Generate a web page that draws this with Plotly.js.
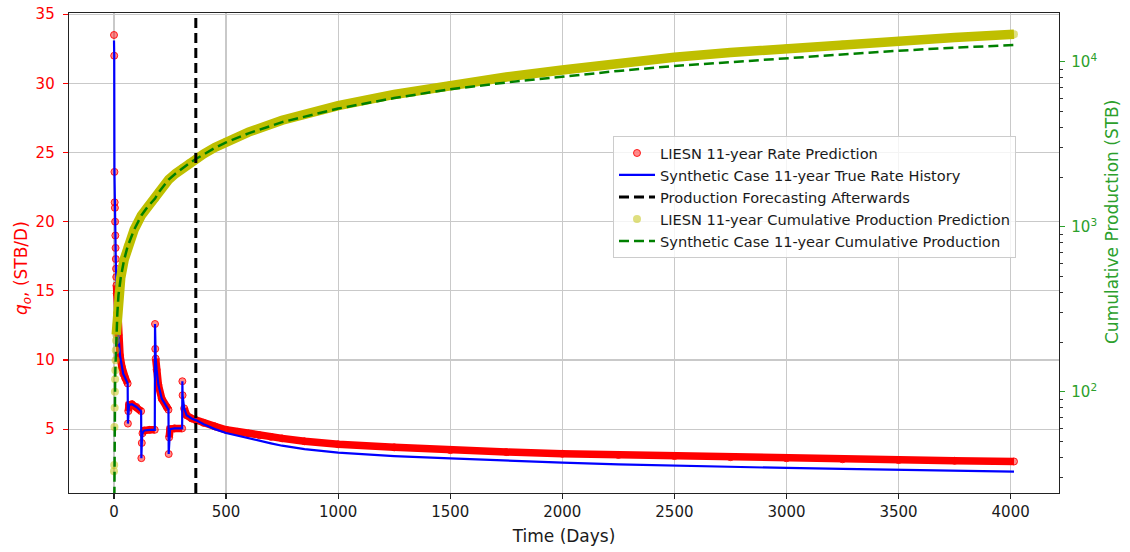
<!DOCTYPE html>
<html><head><meta charset="utf-8">
<script src="https://cdn.plot.ly/plotly-3.0.1.min.js"></script>
<style>html,body{margin:0;padding:0;background:#fff}#chart{width:1130px;height:552px}</style>
</head><body><div id="chart"></div>
<script>
// ---- data ----
const rateDays = [0,1,2,3,4,5,6,7,8,9,10,11,12,15,20,27,35,41,50,61,
  62,64,67,80,100,121,
  122,124,127,135,160,182,
  183,184,186,190,198,213,235,243,
  244,246,250,270,304,
  305,306,313,324,346,365,
  400,450,500,550,600,650,700,750,850,1000,1250,1500,1750,2000,2250,2500,2750,3000,3250,3500,3750,4015];
const ratePred = [33.5,32.0,23.6,21.4,21.0,20.0,19.0,18.1,17.3,16.6,16.0,15.4,14.8,13.4,11.8,10.3,9.5,9.0,8.7,8.3,
  5.4,6.3,6.75,6.8,6.6,6.3,
  2.9,4.0,4.7,4.9,4.95,4.95,
  12.6,10.8,10.1,9.3,8.2,7.2,6.6,6.4,
  3.2,4.4,5.0,5.05,5.05,
  8.46,7.45,6.5,6.0,5.77,5.65,
  5.45,5.2,4.95,4.8,4.68,4.55,4.44,4.33,4.12,3.9,3.68,3.48,3.34,3.22,3.13,3.05,2.97,2.89,2.82,2.76,2.71,2.66];
const rateTrue = [33.1,32.0,23.6,21.4,21.0,20.0,19.0,18.1,17.3,16.6,16.0,15.4,14.8,13.4,11.8,10.3,9.5,9.0,8.7,8.3,
  5.4,6.3,6.75,6.8,6.6,6.3,
  2.9,4.0,4.7,4.9,4.95,4.95,
  12.6,10.8,10.1,9.3,8.2,7.2,6.6,6.4,
  3.2,4.4,5.0,5.05,5.05,
  8.46,7.45,6.5,6.0,5.77,5.65,
  5.35,5.0,4.72,4.52,4.35,4.15,3.97,3.8,3.55,3.3,3.05,2.88,2.71,2.57,2.45,2.35,2.27,2.19,2.12,2.05,1.98,1.92];
// days at which the predicted rate shows as separate dots, not a solid band
const predIsolatedDays = [0,1,2,3,4,5,6,7,8,9,10,62,122,124,183,184,244,305,306];

const cumDays = [0,1,2,3,4,5,6,7,8,9,10,12,15,20,30,45,61,90,122,150,183,200,244,275,305,335,365,
  400,450,500,600,750,1000,1250,1500,1750,2000,2250,2500,2750,3000,3250,3500,3750,4015];
const cumPred = [33,36,61,80,100,119,135,155,178,204,222,255,300,385,490,630,760,960,1170,1320,1480,1620,1930,2100,2260,2420,2570,
  2760,3020,3270,3740,4420,5420,6330,7220,8080,8900,9790,10640,11350,12050,12730,13400,14030,14660];
const cumTrue = [10,36,61,80,100,119,135,155,178,204,222,255,300,385,490,630,760,960,1170,1320,1480,1620,1930,2100,2260,2420,2570,
  2750,3000,3240,3680,4300,5200,6020,6810,7480,8110,8790,9420,9960,10490,11080,11660,12150,12620];
const cumIsolatedDays = [0,1,2,3,4,5,6,7,8,9];

const forecastDay = 365;

const xTicks = [0,500,1000,1500,2000,2500,3000,3500,4000];
const leftTicks = [5,10,15,20,25,30,35];
const rightTicks = [100,1000,10000];
const rightTickText = ['10<sup>2</sup>','10<sup>3</sup>','10<sup>4</sup>'];
const names = ['LIESN 11-year Rate Prediction','Synthetic Case 11-year True Rate History',
  'Production Forecasting Afterwards','LIESN 11-year Cumulative Production Prediction',
  'Synthetic Case 11-year Cumulative Production'];

// ---- build band lines (gaps where points stand alone) ----
function band(days, vals, isolated){
  const xs=[], ys=[]; const iso=new Set(isolated);
  days.forEach((d,i)=>{ if(iso.has(d)){ if(xs.length && xs[xs.length-1]!==null){xs.push(null);ys.push(null);} }
    else { xs.push(d); ys.push(vals[i]); } });
  return {xs, ys};
}
const redBand = band(rateDays, ratePred, predIsolatedDays);
const yelBand = band(cumDays, cumPred, cumIsolatedDays);

const minorTicks=[];
[10,100,1000,10000].forEach(dec=>{ for(let k=2;k<=9;k++) minorTicks.push(k*dec); });

const traces = [
  {x:redBand.xs, y:redBand.ys, mode:'lines', line:{color:'#ff0000', width:7.5}, connectgaps:false, showlegend:false, hoverinfo:'skip'},
  {x:rateDays, y:ratePred, mode:'markers', name:names[0], legendgroup:'a',
   marker:{size:7, color:'rgba(255,0,0,0.45)', line:{color:'rgba(255,0,0,0.85)', width:1}}},
  {x:rateDays, y:rateTrue, mode:'lines', name:names[1], legendgroup:'b', line:{color:'#0000ff', width:2.2}},
  {x:[forecastDay, forecastDay], y:[0,1], yaxis:'y3', mode:'lines', name:names[2], legendgroup:'c',
   line:{color:'#000000', width:3, dash:'10px,5px'}},
  {x:yelBand.xs, y:yelBand.ys, yaxis:'y2', mode:'lines', line:{color:'#bfbf00', width:9.5}, connectgaps:false, showlegend:false, hoverinfo:'skip'},
  {x:cumDays, y:cumPred, yaxis:'y2', mode:'markers', name:names[3], legendgroup:'d',
   marker:{size:8, color:'rgba(191,191,0,0.5)'}},
  {x:cumDays, y:cumTrue, yaxis:'y2', mode:'lines', name:names[4], legendgroup:'e',
   line:{color:'#008000', width:2.5, dash:'10px,5px'}}
];

const plotL=69, plotR=1059, plotT=13, plotB=493, W=1130, H=552;
const px2x = p => (p-plotL)/(plotR-plotL);
const px2y = p => 1-(p-plotT)/(plotB-plotT);

const layout = {
  width:W, height:H,
  margin:{l:plotL, r:W-plotR, t:plotT, b:H-plotB, pad:0},
  paper_bgcolor:'#ffffff', plot_bgcolor:'#ffffff',
  font:{family:'DejaVu Sans', color:'#1a1a1a'},
  showlegend:true,
  legend:{x:px2x(613), y:px2y(136), xanchor:'left', yanchor:'top', itemwidth:36,
    bgcolor:'rgba(255,255,255,0.8)', bordercolor:'#cccccc', borderwidth:1,
    font:{size:14.6, color:'#1a1a1a'}, traceorder:'grouped', tracegroupgap:0},
  xaxis:{range:[-200.75, 4215.75], tickvals:xTicks, ticks:'outside', ticklen:5, tickwidth:1.2, tickcolor:'#222',
    showgrid:true, gridcolor:'#c9c9c9', gridwidth:1.2, zeroline:false,
    showline:true, mirror:true, linecolor:'#222', linewidth:1.3,
    tickfont:{size:15, color:'#1a1a1a'},
    title:{text:'Time (Days)', font:{size:17, color:'#1a1a1a'}, standoff:9}},
  yaxis:{range:[0.38, 35.09], tickvals:leftTicks, ticks:'outside', ticklen:5, tickwidth:1.2, tickcolor:'#ff0000',
    showgrid:true, gridcolor:'#c9c9c9', gridwidth:1.2, zeroline:false,
    showline:true, linecolor:'#222', linewidth:1.3, ticklabelstandoff:5,
    tickfont:{size:15, color:'#ff0000'}},
  yaxis2:{type:'log', range:[1.386, 4.295], overlaying:'y', side:'right',
    tickvals:rightTicks, ticktext:rightTickText, ticks:'outside', ticklen:5, tickwidth:1.2, tickcolor:'#2ca02c',
    showgrid:false, zeroline:false, showline:true, linecolor:'#222', linewidth:1.3, ticklabelstandoff:3,
    tickfont:{size:15, color:'#2ca02c'},
    minor:{tickvals:minorTicks, ticks:'outside', ticklen:3, tickwidth:1, tickcolor:'#333', showgrid:false}},
  yaxis3:{overlaying:'y', range:[0,1], visible:false, fixedrange:true},
  annotations:[
    {xref:'paper', yref:'paper', x:px2x(22), y:px2y(268), xanchor:'center', yanchor:'middle', textangle:-90,
     showarrow:false, text:'<i>q<sub>o</sub></i>, (STB/D)', font:{size:17, color:'#ff0000'}},
    {xref:'paper', yref:'paper', x:px2x(1112), y:px2y(222), xanchor:'center', yanchor:'middle', textangle:-90,
     showarrow:false, text:'Cumulative Production (STB)', font:{size:17, color:'#2ca02c'}}
  ]
};
Plotly.newPlot('chart', traces, layout, {displayModeBar:false, staticPlot:true});
</script></body></html>
